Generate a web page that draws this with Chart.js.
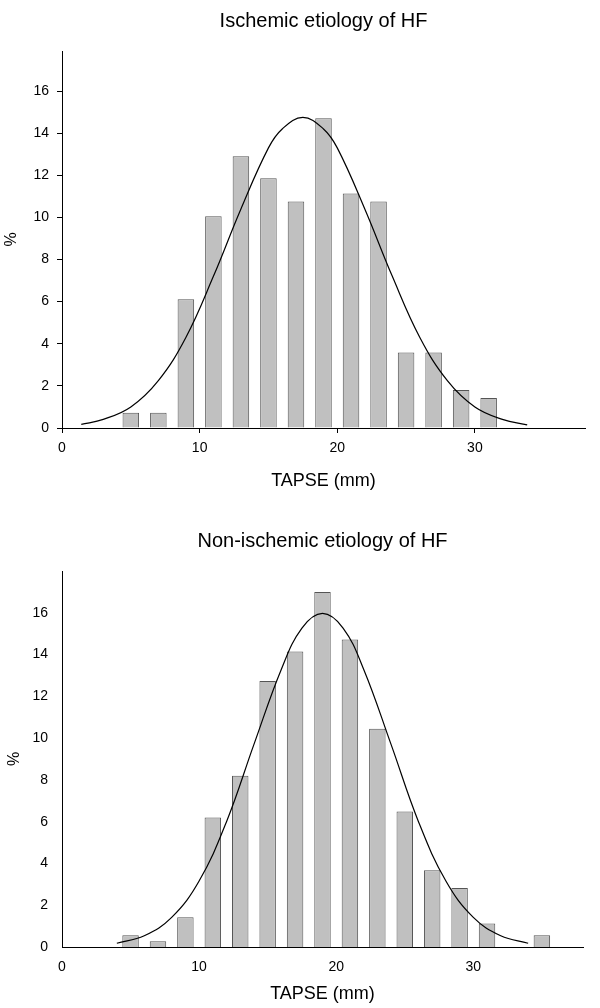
<!DOCTYPE html>
<html>
<head>
<meta charset="utf-8">
<script src="https://cdn.jsdelivr.net/npm/chart.js@4.4.1/dist/chart.umd.min.js"></script>
<style>
  html, body { margin: 0; padding: 0; background: #fff; }
  canvas { display: block; }
</style>
</head>
<body>
<canvas id="top" width="600" height="500"></canvas>
<canvas id="bottom" width="600" height="508"></canvas>
<script>
// TAPSE bins (mm), bar centres
const bins = [5, 7, 9, 11, 13, 15, 17, 19, 21, 23, 25, 27, 29, 31];
const ischemicPct = [0.73, 0.73, 6.11, 10.05, 12.9, 11.86, 10.76, 14.71, 11.14, 10.76, 3.59, 3.59, 1.81, 1.43];

const binsNonIsch = [5, 7, 9, 11, 13, 15, 17, 19, 21, 23, 25, 27, 29, 31, 35];
const nonIschemicPct = [0.56, 0.27, 1.42, 6.2, 8.2, 12.73, 14.15, 16.99, 14.72, 10.45, 6.49, 3.67, 2.82, 1.13, 0.56];

// fitted curves
const ischCurveX = [1.4, 3, 5, 7, 9, 11, 13, 15, 16, 17.5, 19, 20, 22, 24, 26, 28, 30, 32, 33.8];
const ischCurveY = [0.17, 0.41, 1.0, 2.25, 4.3, 7.2, 10.4, 13.3, 14.2, 14.75, 14.2, 13.3, 10.4, 7.2, 4.3, 2.25, 1.0, 0.41, 0.15];

const nonCurveX = [4, 6, 8, 10, 12, 14, 16, 17.5, 19, 20.5, 22, 24, 26, 28, 30, 32, 34];
const nonCurveY = [0.18, 0.54, 1.42, 3.16, 6.0, 9.7, 13.3, 15.27, 15.97, 15.27, 13.3, 9.7, 6.0, 3.16, 1.42, 0.54, 0.18];

const yTicks = [0, 2, 4, 6, 8, 10, 12, 14, 16];
const xTicks = [0, 10, 20, 30];

const FONT = "'Liberation Sans', Arial, sans-serif";
Chart.defaults.font.family = FONT;
Chart.defaults.color = '#000';

const pts = (xs, ys) => xs.map((x, i) => ({ x, y: ys[i] }));

function makeChart(id, o) {
  return new Chart(document.getElementById(id), {
    type: 'bar',
    data: {
      datasets: [
        {
          type: 'line',
          data: pts(o.curveX, o.curveY),
          borderColor: '#000',
          borderWidth: 1.2,
          pointRadius: 0,
          tension: 0.4,
          fill: false,
          order: 0,
        },
        {
          type: 'bar',
          data: pts(o.bins, o.pct),
          backgroundColor: '#c0c0c0',
          borderColor: '#555',
          borderWidth: 1,
          barPercentage: 0.6,
          categoryPercentage: 1.0,
          order: 1,
        },
      ],
    },
    options: {
      responsive: false,
      animation: false,
      layout: { padding: { left: 0, right: o.right, top: 0, bottom: 0 } },
      plugins: {
        legend: { display: false },
        tooltip: { enabled: false },
        title: {
          display: true,
          fullSize: false, // centred over the plot area, like the original
          text: o.title,
          font: { size: 20, weight: 'normal' },
          padding: o.titlePad,
        },
      },
      scales: {
        x: {
          type: 'linear',
          min: 0,
          max: 38,
          offset: false,
          afterFit: s => { s.height = o.xHeight; },
          afterBuildTicks: s => { s.ticks = xTicks.map(v => ({ value: v })); },
          grid: { display: o.ticks, offset: false, drawOnChartArea: false, color: '#000', tickLength: 5 },
          border: { display: true, color: '#000', width: 1 },
          ticks: { font: { size: 14 }, padding: o.xTickPad, maxRotation: 0 },
          title: { display: true, text: 'TAPSE (mm)', font: { size: 18 }, padding: { top: 0, bottom: o.xTitlePad } },
        },
        y: {
          min: 0,
          max: o.ymax,
          afterFit: s => { s.width = o.yWidth; },
          afterBuildTicks: s => { s.ticks = yTicks.map(v => ({ value: v })); },
          grid: { display: o.ticks, drawOnChartArea: false, color: '#000', tickLength: 5 },
          border: { display: true, color: '#000', width: 1 },
          ticks: { font: { size: 14 }, padding: o.yTickPad },
          title: { display: true, text: '%', font: { size: 16 }, padding: { top: o.yTitlePad, bottom: 0 } },
        },
      },
    },
  });
}

makeChart('top', {
  title: 'Ischemic etiology of HF',
  bins, pct: ischemicPct, curveX: ischCurveX, curveY: ischCurveY,
  ymax: 17.9, ticks: true, right: 15,
  titlePad: { top: 9, bottom: 18 },
  xHeight: 72, xTickPad: 7, xTitlePad: 8,
  yWidth: 62, yTickPad: 8, yTitlePad: 2,
});

makeChart('bottom', {
  title: 'Non-ischemic etiology of HF',
  bins: binsNonIsch, pct: nonIschemicPct, curveX: nonCurveX, curveY: nonCurveY,
  ymax: 18, ticks: false, right: 17,
  titlePad: { top: 29, bottom: 18 },
  xHeight: 61, xTickPad: 7, xTitlePad: 3,
  yWidth: 62, yTickPad: 9, yTitlePad: 5,
});
</script>
</body>
</html>
